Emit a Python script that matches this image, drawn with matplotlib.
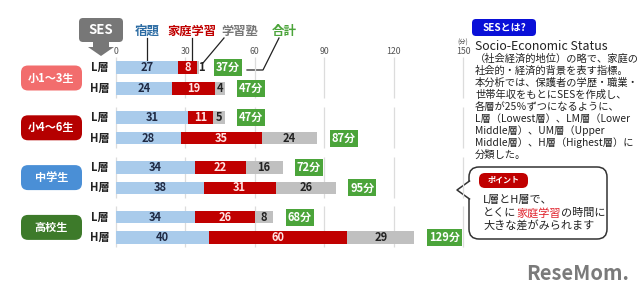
import matplotlib
matplotlib.use('Agg')
import matplotlib.pyplot as plt
from matplotlib.patches import FancyBboxPatch, Polygon
import numpy as np

plt.rcParams['font.family'] = ['Noto Sans CJK JP', 'DejaVu Sans']

# data
groups = ['小1～3生', '小4～6生', '中学生', '高校生']
layers = ['L層', 'H層']
homework = [27, 24, 31, 28, 34, 38, 34, 40]    # 宿題
home_study = [8, 19, 11, 35, 22, 31, 26, 60]   # 家庭学習
cram = [1, 4, 5, 24, 16, 26, 8, 29]            # 学習塾
totals = [37, 47, 47, 87, 72, 95, 68, 129]     # 合計
ticks = [0, 30, 60, 90, 120, 150]

group_colors = ['#f26d6d', '#b50000', '#4a8fd6', '#3d7a2a']
c_blue = '#a9cbeb'
c_red = '#c00000'
c_gray = '#c0c0c0'
c_green = '#4ba43a'

W, H = 640, 296
fig = plt.figure(figsize=(W / 100, H / 100), dpi=100)

# overlay in pixel coords for decorations
ov = fig.add_axes([0, 0, 1, 1])
ov.set_xlim(0, W)
ov.set_ylim(H, 0)
ov.axis('off')

# bar axes: x in minutes, y in pixels
x0px = 116
pxmin = (463 - 116) / 150
ax = fig.add_axes([0, 0, 1, 1])
ax.set_xlim(-x0px / pxmin, (W - x0px) / pxmin)
ax.set_ylim(H, 0)
ax.axis('off')
ax.patch.set_alpha(0)

gcent = [78 + g * 49.8 for g in range(4)]
ys = []
for g in range(4):
    ys += [gcent[g] - 10.3, gcent[g] + 10.3]
ys = np.array(ys)
bh = 12.5

# gridlines per group
for g in range(4):
    ax.vlines(ticks, gcent[g] - 21, gcent[g] + 20, color='#dcdcdc', lw=0.9, zorder=0)
for t in ticks:
    ax.text(t, 52, str(t), ha='center', va='center', fontsize=6.3, color='#555555')
ax.text(150, 43, '(分)', ha='center', va='center', fontsize=4.5, color='#555555')

hw = np.array(homework)
hs = np.array(home_study)
cr = np.array(cram)
ax.barh(ys, hw, height=bh, color=c_blue, zorder=2)
ax.barh(ys, hs, left=hw, height=bh, color=c_red, zorder=2)
ax.barh(ys, cr, left=hw + hs, height=bh, color=c_gray, zorder=2)

for i, y in enumerate(ys):
    ax.text(hw[i] / 2, y, str(hw[i]), ha='center', va='center', fontsize=8,
            fontweight='bold', color='#1f2a44', zorder=3)
    ax.text(hw[i] + hs[i] / 2, y, str(hs[i]), ha='center', va='center', fontsize=8,
            fontweight='bold', color='#ffe4e4', zorder=3)
    if cr[i] >= 4:
        ax.text(hw[i] + hs[i] + cr[i] / 2, y, str(cr[i]), ha='center', va='center',
                fontsize=8, fontweight='bold', color='#222222', zorder=3)
    else:
        ax.text(hw[i] + hs[i] + cr[i] - 0.3, y, str(cr[i]), ha='left', va='center',
                fontsize=8, fontweight='bold', color='#222222', zorder=3)
    ax.text(totals[i] + 6.2, y, f'{totals[i]}分', ha='left', va='center', fontsize=8,
            fontweight='bold', color='white', zorder=3,
            bbox=dict(boxstyle='square,pad=0.18', fc=c_green, ec='none'))

# group pills and layer labels
for g in range(4):
    ov.add_patch(FancyBboxPatch((21, gcent[g] - 12.5), 61, 25,
                                boxstyle='round,pad=0,rounding_size=7',
                                fc=group_colors[g], ec='none'))
    ov.text(51.5, gcent[g], groups[g], ha='center', va='center', fontsize=8,
            fontweight='bold', color='white')
for i, y in enumerate(ys):
    ov.text(100, y, layers[i % 2], ha='center', va='center', fontsize=8,
            fontweight='bold', color='#222222')

# SES header box with arrow
ov.add_patch(FancyBboxPatch((79, 18), 44, 24, boxstyle='round,pad=0,rounding_size=4',
                            fc='#777777', ec='none'))
ov.add_patch(Polygon([[93, 42], [109, 42], [109, 47], [114, 47], [101, 56], [88, 47], [93, 47]],
                     closed=True, fc='#777777', ec='none'))
ov.text(101, 30, 'SES', ha='center', va='center', fontsize=9.5, fontweight='bold', color='white')

# legend labels with leader lines
ov.text(147, 31, '宿題', ha='center', va='center', fontsize=9, fontweight='bold', color='#2e6da4')
ov.text(192, 31, '家庭学習', ha='center', va='center', fontsize=8.8, fontweight='bold', color=c_red)
ov.text(240, 31, '学習塾', ha='center', va='center', fontsize=8.8, fontweight='bold', color='#777777')
ov.text(284, 31, '合計', ha='center', va='center', fontsize=9, fontweight='bold', color=c_green)
lk = dict(color='#222222', lw=0.9)
ov.plot([147, 147], [38, 62], **lk)
ov.plot([192, 192], [38, 62], **lk)
ov.plot([224, 203], [38, 63], **lk)
ov.plot([279, 263, 247], [38, 70, 70], **lk)

# SES explanation
ov.add_patch(FancyBboxPatch((472, 19), 64, 17, boxstyle='round,pad=0,rounding_size=4',
                            fc='#0a10d8', ec='none'))
ov.text(504, 27.5, 'SESとは?', ha='center', va='center', fontsize=7.2, fontweight='bold', color='white')
para = ['Socio-Economic Status',
        '（社会経済的地位）の略で、家庭の',
        '社会的・経済的背景を表す指標。',
        '本分析では、保護者の学歴・職業・',
        '世帯年収をもとにSESを作成し、',
        '各層が25％ずつになるように、',
        'L層（Lowest層）、LM層（Lower',
        'Middle層）、UM層（Upper',
        'Middle層）、H層（Highest層）に',
        '分類した。']
for k, line in enumerate(para):
    fs = 8.9 if k == 0 else 7.4
    ov.text(475, 47 + k * 12, line, ha='left', va='center', fontsize=fs, color='#222222')

# point bubble
ov.add_patch(FancyBboxPatch((469, 167), 138, 72, boxstyle='round,pad=0,rounding_size=10',
                            fc='white', ec='#333333', lw=1.1))
ov.add_patch(Polygon([[470, 181], [457, 190], [470, 199]], closed=True, fc='white', ec='none', zorder=3))
ov.plot([469.5, 457, 469.5], [181, 190, 199], color='#333333', lw=1.1, zorder=4)
ov.add_patch(FancyBboxPatch((479, 173), 49, 15, boxstyle='round,pad=0,rounding_size=6',
                            fc=c_red, ec='none', zorder=4))
ov.text(503.5, 180.5, 'ポイント', ha='center', va='center', fontsize=5.8, fontweight='bold',
        color='white', zorder=5)
ov.text(483, 200, 'L層とH層で、', ha='left', va='center', fontsize=8, color='#222222', zorder=5)
t1 = ov.text(483, 213, 'とくに', ha='left', va='center', fontsize=8, color='#222222', zorder=5)
fig.canvas.draw()
r = fig.canvas.get_renderer()
bb = t1.get_window_extent(r)
xa = ov.transData.inverted().transform((bb.x1, 0))[0]
t2 = ov.text(xa, 213, '家庭学習', ha='left', va='center', fontsize=8, color='#e0202a', zorder=5)
bb = t2.get_window_extent(r)
xb = ov.transData.inverted().transform((bb.x1, 0))[0]
ov.text(xb, 213, 'の時間に', ha='left', va='center', fontsize=8, color='#222222', zorder=5)
ov.text(483, 226, '大きな差がみられます', ha='left', va='center', fontsize=8, color='#222222', zorder=5)

# logo
ov.text(629, 273, 'ReseMom.', ha='right', va='center', fontsize=14.5, fontweight='bold', color='#7a7a7a')

fig.savefig('out.png', dpi=100, facecolor='white')
